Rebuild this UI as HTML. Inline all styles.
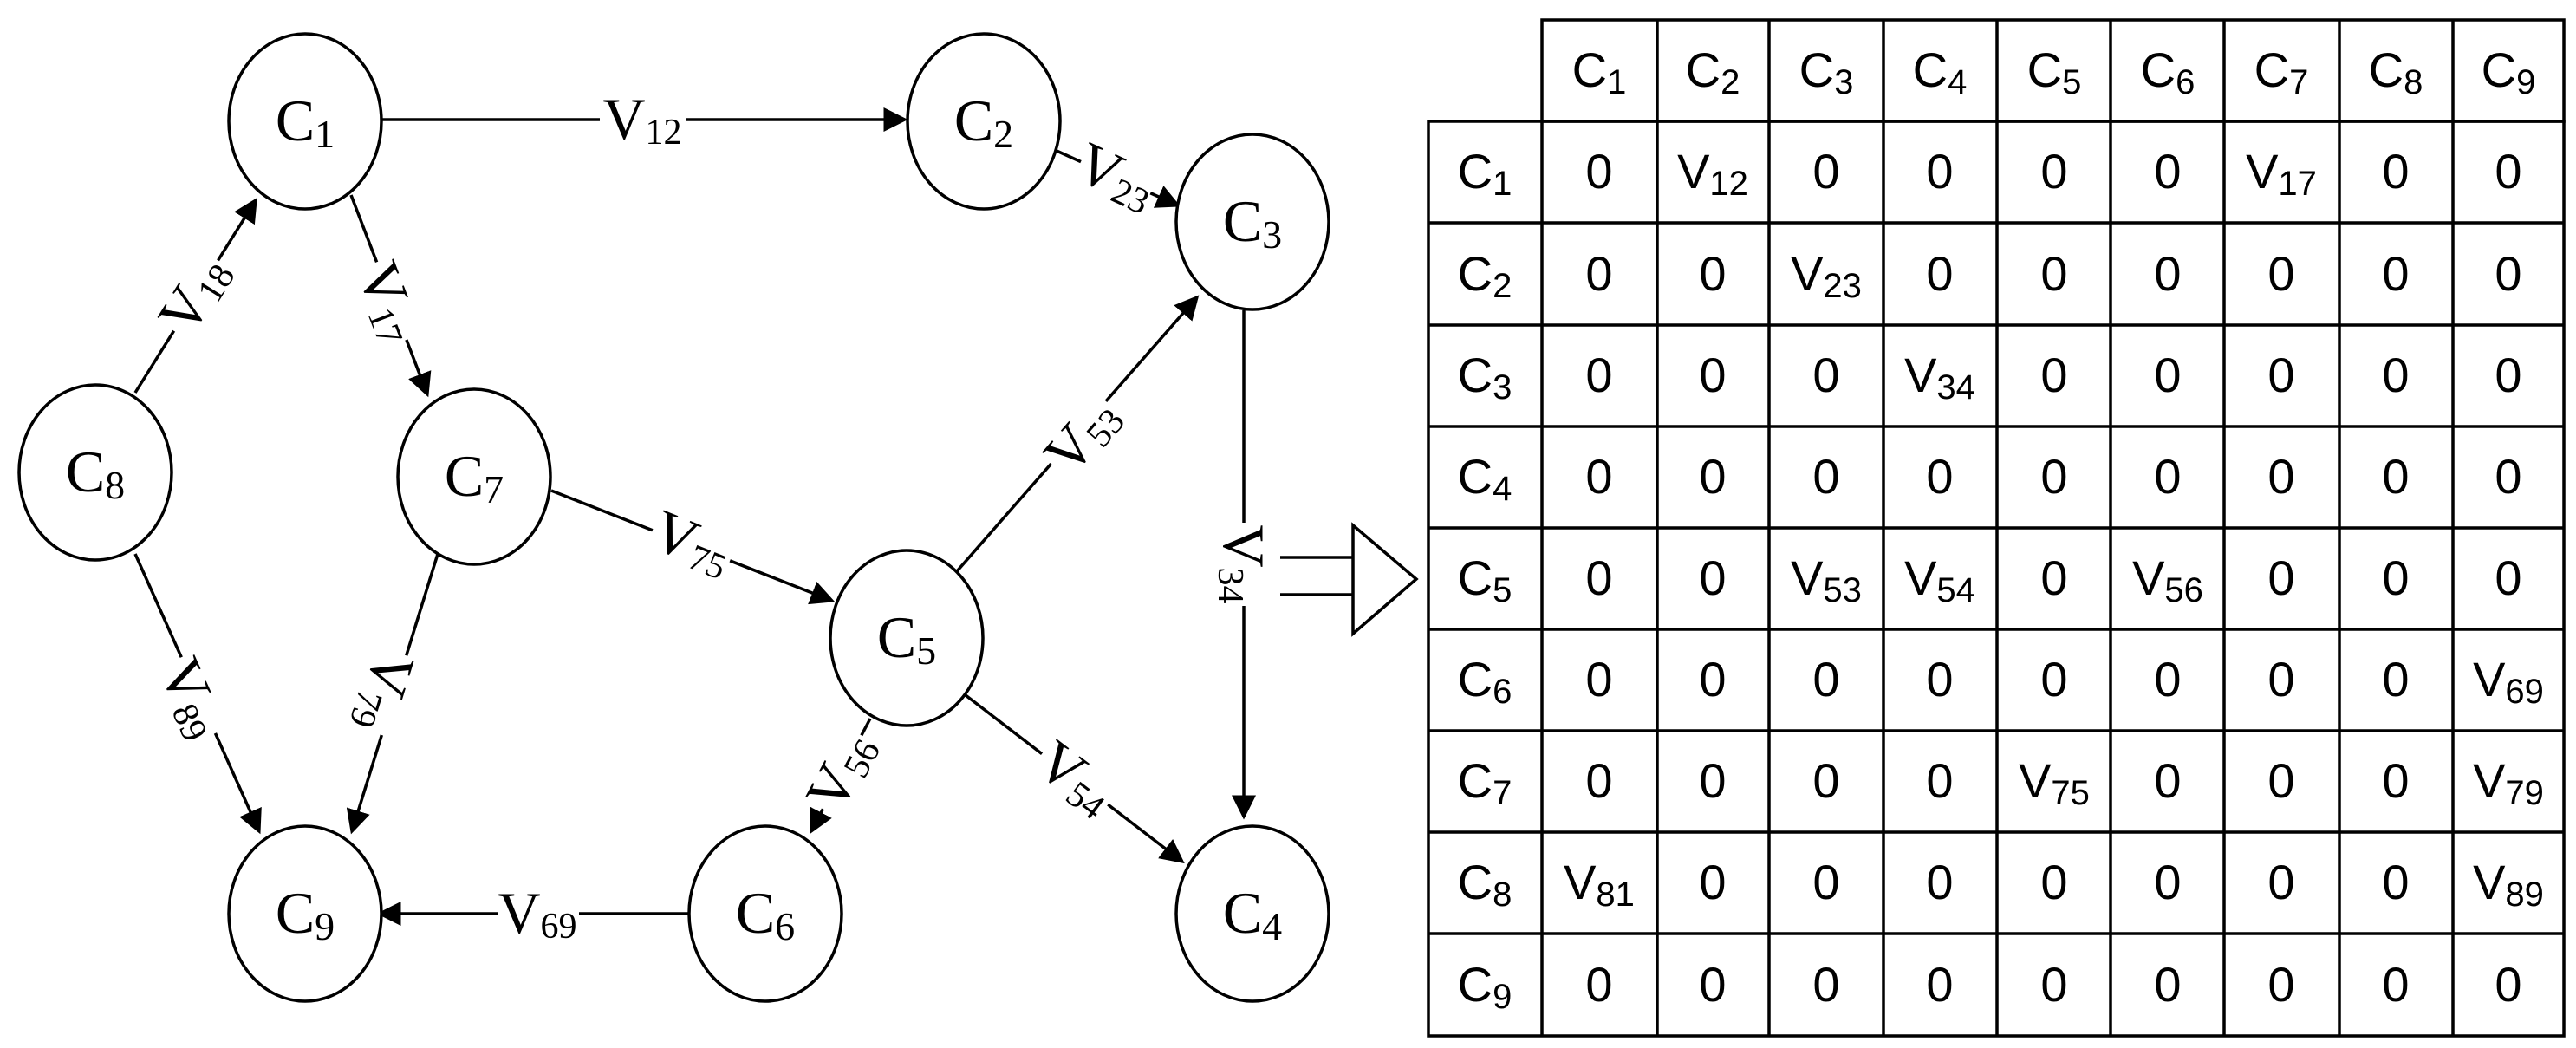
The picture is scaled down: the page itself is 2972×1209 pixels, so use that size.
<!DOCTYPE html>
<html><head><meta charset="utf-8"><style>
body{margin:0;background:#fff;}
svg{display:block}
.g{font-family:"Liberation Serif",serif;font-size:68px;}
.t{font-family:"Liberation Sans",sans-serif;font-size:56px;}
</style></head><body>
<svg width="2972" height="1209" viewBox="0 0 2972 1209" xmlns="http://www.w3.org/2000/svg">
<defs>
<marker id="a" markerWidth="8" markerHeight="8" refX="7" refY="4" orient="auto" markerUnits="strokeWidth">
<path d="M0,0 L8,4 L0,8 z" fill="#000"/></marker>
</defs>
<g stroke="#000" stroke-width="3.5" fill="none">
<line x1="441" y1="138" x2="1044" y2="138" marker-end="url(#a)"/>
<line x1="1219" y1="174" x2="1359" y2="237" marker-end="url(#a)"/>
<line x1="405" y1="225" x2="493" y2="455" marker-end="url(#a)"/>
<line x1="156" y1="453" x2="295" y2="231" marker-end="url(#a)"/>
<line x1="156" y1="639" x2="299" y2="959" marker-end="url(#a)"/>
<line x1="505" y1="639" x2="406" y2="959" marker-end="url(#a)"/>
<line x1="636" y1="566" x2="960" y2="693" marker-end="url(#a)"/>
<line x1="1104" y1="659" x2="1381" y2="343" marker-end="url(#a)"/>
<line x1="1004" y1="829" x2="936" y2="959" marker-end="url(#a)"/>
<line x1="1114" y1="802" x2="1364" y2="994" marker-end="url(#a)"/>
<line x1="794" y1="1054" x2="438" y2="1054" marker-end="url(#a)"/>
<line x1="1435" y1="358" x2="1435" y2="942" marker-end="url(#a)"/>
<line x1="1477" y1="643" x2="1561" y2="643"/>
<line x1="1477" y1="686" x2="1561" y2="686"/>
<polygon points="1561,606 1634,668 1561,731" fill="#fff"/>
<g fill="#fff">
<ellipse cx="352" cy="140" rx="88" ry="101"/>
<ellipse cx="1135" cy="140" rx="88" ry="101"/>
<ellipse cx="1445" cy="256" rx="88" ry="101"/>
<ellipse cx="110" cy="545" rx="88" ry="101"/>
<ellipse cx="547" cy="550" rx="88" ry="101"/>
<ellipse cx="1046" cy="736" rx="88" ry="101"/>
<ellipse cx="352" cy="1054" rx="88" ry="101"/>
<ellipse cx="883" cy="1054" rx="88" ry="101"/>
<ellipse cx="1445" cy="1054" rx="88" ry="101"/>
</g>
</g>
<g class="g" text-anchor="middle">
<text x="352" y="162">C<tspan font-size="46" dy="8">1</tspan></text>
<text x="1135" y="162">C<tspan font-size="46" dy="8">2</tspan></text>
<text x="1445" y="278">C<tspan font-size="46" dy="8">3</tspan></text>
<text x="110" y="567">C<tspan font-size="46" dy="8">8</tspan></text>
<text x="547" y="572">C<tspan font-size="46" dy="8">7</tspan></text>
<text x="1046" y="758">C<tspan font-size="46" dy="8">5</tspan></text>
<text x="352" y="1076">C<tspan font-size="46" dy="8">9</tspan></text>
<text x="883" y="1076">C<tspan font-size="46" dy="8">6</tspan></text>
<text x="1445" y="1076">C<tspan font-size="46" dy="8">4</tspan></text>
</g>
<g class="g" font-size="60" text-anchor="middle">
<g><rect x="692" y="108" width="100" height="60" fill="#fff"/><text x="741" y="160">V<tspan font-size="42" dy="6">12</tspan></text></g>
<g><rect x="574" y="1024" width="94" height="60" fill="#fff"/><text x="620" y="1076">V<tspan font-size="42" dy="6">69</tspan></text></g>
<g transform="translate(1287,205) rotate(25)"><rect x="-44" y="-28" width="88" height="56" fill="#fff"/><text y="20">V<tspan font-size="42" dy="6">23</tspan></text></g>
<g transform="translate(226,341) rotate(-58)"><rect x="-48" y="-28" width="96" height="56" fill="#fff"/><text y="20">V<tspan font-size="42" dy="6">18</tspan></text></g>
<g transform="translate(447,349) rotate(69)"><rect x="-48" y="-28" width="96" height="56" fill="#fff"/><text y="20">V<tspan font-size="42" dy="6">17</tspan></text></g>
<g transform="translate(220,806) rotate(66)"><rect x="-48" y="-28" width="96" height="56" fill="#fff"/><text y="20">V<tspan font-size="42" dy="6">89</tspan></text></g>
<g transform="translate(441,798) rotate(107)"><rect x="-48" y="-28" width="96" height="56" fill="#fff"/><text y="20">V<tspan font-size="42" dy="6">79</tspan></text></g>
<g transform="translate(798,628) rotate(22)"><rect x="-48" y="-28" width="96" height="56" fill="#fff"/><text y="20">V<tspan font-size="42" dy="6">75</tspan></text></g>
<g transform="translate(1250,504) rotate(-49)"><rect x="-48" y="-28" width="96" height="56" fill="#fff"/><text y="20">V<tspan font-size="42" dy="6">53</tspan></text></g>
<g transform="translate(972,891) rotate(-62)"><rect x="-48" y="-28" width="96" height="56" fill="#fff"/><text y="20">V<tspan font-size="42" dy="6">56</tspan></text></g>
<g transform="translate(1240,899) rotate(37)"><rect x="-48" y="-28" width="96" height="56" fill="#fff"/><text y="20">V<tspan font-size="42" dy="6">54</tspan></text></g>
<g transform="translate(1432,651) rotate(90)"><rect x="-48" y="-26" width="96" height="52" fill="#fff"/><text y="20">V<tspan font-size="42" dy="6">34</tspan></text></g>
</g>
<g stroke="#000" stroke-width="3.5" fill="none">
<rect x="1779" y="23" width="1179" height="117"/>
<rect x="1648" y="140" width="1310" height="1055"/>
<path d="M1912 23V1195M2041 23V1195M2173 23V1195M2304 23V1195M2435 23V1195M2566 23V1195M2699 23V1195M2830 23V1195M1779 140V1195"/>
<path d="M1648 257H2958M1648 375H2958M1648 492H2958M1648 609H2958M1648 726H2958M1648 843H2958M1648 960H2958M1648 1077H2958"/>
</g>
<g class="t" text-anchor="middle">
<text x="1845" y="100">C<tspan font-size="40" dy="8">1</tspan></text>
<text x="1976" y="100">C<tspan font-size="40" dy="8">2</tspan></text>
<text x="2107" y="100">C<tspan font-size="40" dy="8">3</tspan></text>
<text x="2238" y="100">C<tspan font-size="40" dy="8">4</tspan></text>
<text x="2370" y="100">C<tspan font-size="40" dy="8">5</tspan></text>
<text x="2501" y="100">C<tspan font-size="40" dy="8">6</tspan></text>
<text x="2632" y="100">C<tspan font-size="40" dy="8">7</tspan></text>
<text x="2764" y="100">C<tspan font-size="40" dy="8">8</tspan></text>
<text x="2894" y="100">C<tspan font-size="40" dy="8">9</tspan></text>

<text x="1713" y="217">C<tspan font-size="40" dy="8">1</tspan></text>
<text x="1713" y="335">C<tspan font-size="40" dy="8">2</tspan></text>
<text x="1713" y="452">C<tspan font-size="40" dy="8">3</tspan></text>
<text x="1713" y="569">C<tspan font-size="40" dy="8">4</tspan></text>
<text x="1713" y="686">C<tspan font-size="40" dy="8">5</tspan></text>
<text x="1713" y="803">C<tspan font-size="40" dy="8">6</tspan></text>
<text x="1713" y="920">C<tspan font-size="40" dy="8">7</tspan></text>
<text x="1713" y="1037">C<tspan font-size="40" dy="8">8</tspan></text>
<text x="1713" y="1155">C<tspan font-size="40" dy="8">9</tspan></text>

<!-- row1 -->
<text x="1845" y="217">0</text><text x="1976" y="217">V<tspan font-size="40" dy="8">12</tspan></text><text x="2107" y="217">0</text><text x="2238" y="217">0</text><text x="2370" y="217">0</text><text x="2501" y="217">0</text><text x="2632" y="217">V<tspan font-size="40" dy="8">17</tspan></text><text x="2764" y="217">0</text><text x="2894" y="217">0</text>
<!-- row2 -->
<text x="1845" y="335">0</text><text x="1976" y="335">0</text><text x="2107" y="335">V<tspan font-size="40" dy="8">23</tspan></text><text x="2238" y="335">0</text><text x="2370" y="335">0</text><text x="2501" y="335">0</text><text x="2632" y="335">0</text><text x="2764" y="335">0</text><text x="2894" y="335">0</text>
<!-- row3 -->
<text x="1845" y="452">0</text><text x="1976" y="452">0</text><text x="2107" y="452">0</text><text x="2238" y="452">V<tspan font-size="40" dy="8">34</tspan></text><text x="2370" y="452">0</text><text x="2501" y="452">0</text><text x="2632" y="452">0</text><text x="2764" y="452">0</text><text x="2894" y="452">0</text>
<!-- row4 -->
<text x="1845" y="569">0</text><text x="1976" y="569">0</text><text x="2107" y="569">0</text><text x="2238" y="569">0</text><text x="2370" y="569">0</text><text x="2501" y="569">0</text><text x="2632" y="569">0</text><text x="2764" y="569">0</text><text x="2894" y="569">0</text>
<!-- row5 -->
<text x="1845" y="686">0</text><text x="1976" y="686">0</text><text x="2107" y="686">V<tspan font-size="40" dy="8">53</tspan></text><text x="2238" y="686">V<tspan font-size="40" dy="8">54</tspan></text><text x="2370" y="686">0</text><text x="2501" y="686">V<tspan font-size="40" dy="8">56</tspan></text><text x="2632" y="686">0</text><text x="2764" y="686">0</text><text x="2894" y="686">0</text>
<!-- row6 -->
<text x="1845" y="803">0</text><text x="1976" y="803">0</text><text x="2107" y="803">0</text><text x="2238" y="803">0</text><text x="2370" y="803">0</text><text x="2501" y="803">0</text><text x="2632" y="803">0</text><text x="2764" y="803">0</text><text x="2894" y="803">V<tspan font-size="40" dy="8">69</tspan></text>
<!-- row7 -->
<text x="1845" y="920">0</text><text x="1976" y="920">0</text><text x="2107" y="920">0</text><text x="2238" y="920">0</text><text x="2370" y="920">V<tspan font-size="40" dy="8">75</tspan></text><text x="2501" y="920">0</text><text x="2632" y="920">0</text><text x="2764" y="920">0</text><text x="2894" y="920">V<tspan font-size="40" dy="8">79</tspan></text>
<!-- row8 -->
<text x="1845" y="1037">V<tspan font-size="40" dy="8">81</tspan></text><text x="1976" y="1037">0</text><text x="2107" y="1037">0</text><text x="2238" y="1037">0</text><text x="2370" y="1037">0</text><text x="2501" y="1037">0</text><text x="2632" y="1037">0</text><text x="2764" y="1037">0</text><text x="2894" y="1037">V<tspan font-size="40" dy="8">89</tspan></text>
<!-- row9 -->
<text x="1845" y="1155">0</text><text x="1976" y="1155">0</text><text x="2107" y="1155">0</text><text x="2238" y="1155">0</text><text x="2370" y="1155">0</text><text x="2501" y="1155">0</text><text x="2632" y="1155">0</text><text x="2764" y="1155">0</text><text x="2894" y="1155">0</text>
</g>
</svg>
</body></html>
